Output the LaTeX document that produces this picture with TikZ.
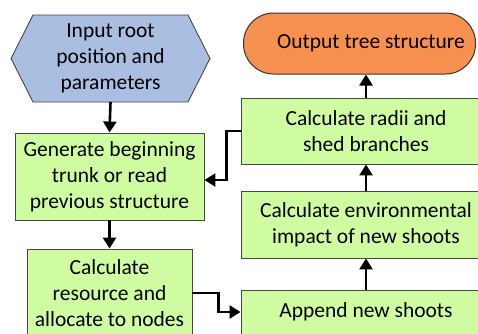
\documentclass[tikz,border=0pt]{standalone}
\usepackage{fontspec}
\setmainfont{Carlito}
\usetikzlibrary{arrows.meta}
\definecolor{boxgreen}{RGB}{207,252,160}
\definecolor{hexblue}{RGB}{170,190,226}
\definecolor{outorange}{RGB}{247,145,80}
\definecolor{edgegray}{RGB}{70,70,70}
\tikzset{
  txt/.style={font=\fontsize{21.5}{26}\selectfont, align=center, text=black, inner sep=0pt},
  gbox/.style={txt, draw=edgegray, line width=0.9pt, fill=boxgreen},
  flow/.style={line width=2.6pt, -{Triangle[width=13pt,length=11pt]}}
}
\begin{document}
\begin{tikzpicture}[x=1pt,y=-1pt]
\useasboundingbox (0,0) rectangle (478,333);
\clip (0,0) rectangle (478,333);
% hexagon
\draw[draw=edgegray, line width=0.9pt, fill=hexblue]
  (11,58.5) -- (33,15) -- (188,15) -- (210,58.5) -- (188,102) -- (33,102) -- cycle;
\node[txt, minimum width=199pt, minimum height=87pt] (hex) at (110.5,58.5)
  {Input root\\position and\\parameters};
\node[gbox, minimum width=189pt, minimum height=87pt] (gen) at (109.5,176.5)
  {Generate beginning\\trunk or read\\previous structure};
\node[gbox, minimum width=165pt, minimum height=88pt] (res) at (109.5,293)
  {Calculate\\resource and\\allocate to nodes};
\node[gbox, minimum width=250pt, minimum height=44pt] (app) at (366,312)
  {Append new shoots};
\node[gbox, minimum width=250pt, minimum height=67pt] (env) at (366,224.5)
  {Calculate environmental\\impact of new shoots};
\node[gbox, minimum width=250pt, minimum height=66pt] (rad) at (366,131)
  {Calculate radii and\\shed branches};
\node[txt, draw=black!80, line width=1pt, fill=outorange, rounded corners=30pt,
  minimum width=232pt, minimum height=61pt] (out) at (359.5,43.5)
  {\hspace*{23pt}Output tree structure};
% connectors
\draw[flow] (hex.south) -- (gen.north);
\draw[flow] (gen.south) -- (res.north);
\draw[flow] (res.east) -- ++(26,0) |- (app.west);
\draw[flow] (app.north) -- (env.south);
\draw[flow] (env.north) -- (rad.south);
\draw[flow] (rad.north) -- (rad.north |- out.south);
\draw[flow] (rad.west) -- ++(-14,0) |- ([yshift=-3.5pt]gen.east);
\end{tikzpicture}
\end{document}
